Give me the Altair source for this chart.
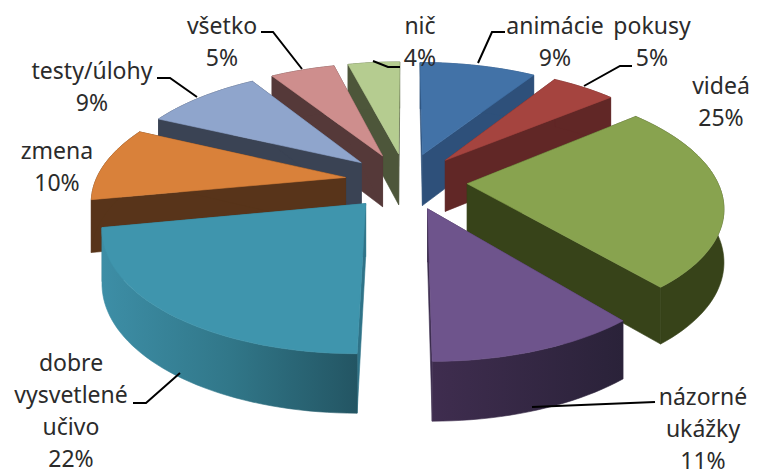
import math
import altair as alt

# Chart values
names = ["animácie", "pokusy", "videá", "názorné\nukážky", "dobre\nvysvetlené\nučivo",
         "zmena", "testy/úlohy", "všetko", "nič"]
shares = [9, 5, 25, 11, 22, 10, 9, 5, 4]
top_colors = ["#4272a7", "#a5443f", "#88a34f", "#6e548c", "#3f95ad",
              "#d9813a", "#8fa5cc", "#ce8e8d", "#b5cc90"]
wall_colors = ["#2e507a", "#612726", "#374319", "#3b2c4e", "#2f7388",
               "#58341a", "#3a4354", "#553939", "#4d563a"]

# Layout of the 3D pie
CX, CY = 406, 181
RX, RY = 250, 116
DEPTH = 5.9
EXPLODE = 0.245
WALL = 52
paint_order = [8, 7, 6, 5, 4, 0, 1, 2, 3]
label_anchor = [(555, 27), (652, 27), (721, 87), (703, 398), (71, 364),
                (57, 152), (92, 72), (222, 27), (420, 27)]
leaders = [
    [(478, 63), (492, 32), (505, 32)],
    [(584, 86), (620, 66), (632, 66)],
    [(532, 407), (655, 402)],
    [(180, 373), (146, 403), (133, 403)],
    [(302, 69), (273, 32), (261, 32)],
    [(197, 97), (170, 78), (157, 78)],
    [(373, 61), (388, 67), (400, 67)],
]

X = alt.X("x:Q", axis=None, scale=alt.Scale(domain=[8, 750], nice=False, zero=False))
Y = alt.Y("y:Q", axis=None, scale=alt.Scale(domain=[470, 8], nice=False, zero=False))


def project(wx, wy, down=False):
    s = DEPTH / (DEPTH + wy)
    return (CX + RX * wx * s,
            CY - RY * wy * s + (WALL * s ** 0.6 if down else 0))


def poly(pts, fill):
    rows = [{"x": p[0], "y": p[1], "i": i} for i, p in enumerate(pts + pts[:1])]
    return alt.Chart(alt.Data(values=rows)).mark_line(
        fill=fill, stroke=fill, strokeWidth=0.6
    ).encode(x=X, y=Y, order="i:Q")


def slice_layers(idx):
    start = sum(shares[:idx]) / 100 * 2 * math.pi
    end = start + shares[idx] / 100 * 2 * math.pi
    mid = (start + end) / 2
    ox, oy = EXPLODE * math.sin(mid), EXPLODE * math.cos(mid)
    steps = max(6, shares[idx] * 2)
    angs = [start + (end - start) * k / steps for k in range(steps + 1)]
    rim = [(ox + math.sin(a), oy + math.cos(a)) for a in angs]
    rim_top = [project(*p) for p in rim]
    rim_low = [project(*p, down=True) for p in rim]
    apex_top, apex_low = project(ox, oy), project(ox, oy, down=True)

    wall = wall_colors[idx]
    outer = wall
    if names[idx].startswith("dobre"):
        outer = alt.Gradient(gradient="linear", x1=0, x2=1, y1=0, y2=0, stops=[
            alt.GradientStop(offset=0, color="#3d8ea6"),
            alt.GradientStop(offset=0.5, color="#317789"),
            alt.GradientStop(offset=1, color="#235563")])
    if names[idx].startswith("názorné"):
        outer = alt.Gradient(gradient="linear", x1=0, x2=1, y1=0, y2=0, stops=[
            alt.GradientStop(offset=0, color="#3f2d4f"),
            alt.GradientStop(offset=1, color="#2a2239")])

    return [
        poly([apex_top, rim_top[0], rim_low[0], apex_low], wall),
        poly([apex_top, rim_top[-1], rim_low[-1], apex_low], wall),
        poly(rim_top + rim_low[::-1], outer),
        poly([apex_top] + rim_top, top_colors[idx]),
    ]


layers = []
for idx in paint_order:
    layers += slice_layers(idx)

for n, line in enumerate(leaders):
    rows = [{"x": p[0], "y": p[1], "i": i} for i, p in enumerate(line)]
    layers.append(alt.Chart(alt.Data(values=rows)).mark_line(
        color="#000000", strokeWidth=2).encode(x=X, y=Y, order="i:Q"))

label_rows = []
for name, share, pos in zip(names, shares, label_anchor):
    label_rows.append({"x": pos[0], "y": pos[1], "t": (name + "\n" + str(share) + "%").split("\n")})
layers.append(alt.Chart(alt.Data(values=label_rows)).mark_text(
    font="Noto Sans", fontSize=23, lineHeight=32, align="center", baseline="middle", color="#2b2b2b"
).encode(x=X, y=Y, text="t:N"))

chart = alt.layer(*layers).properties(
    width=742, height=462, padding=0, background="#ffffff",
    autosize=alt.AutoSizeParams(type="none"),
).configure_view(stroke=None)

chart.save("out.html", embed_options={"renderer": "svg", "actions": False})
